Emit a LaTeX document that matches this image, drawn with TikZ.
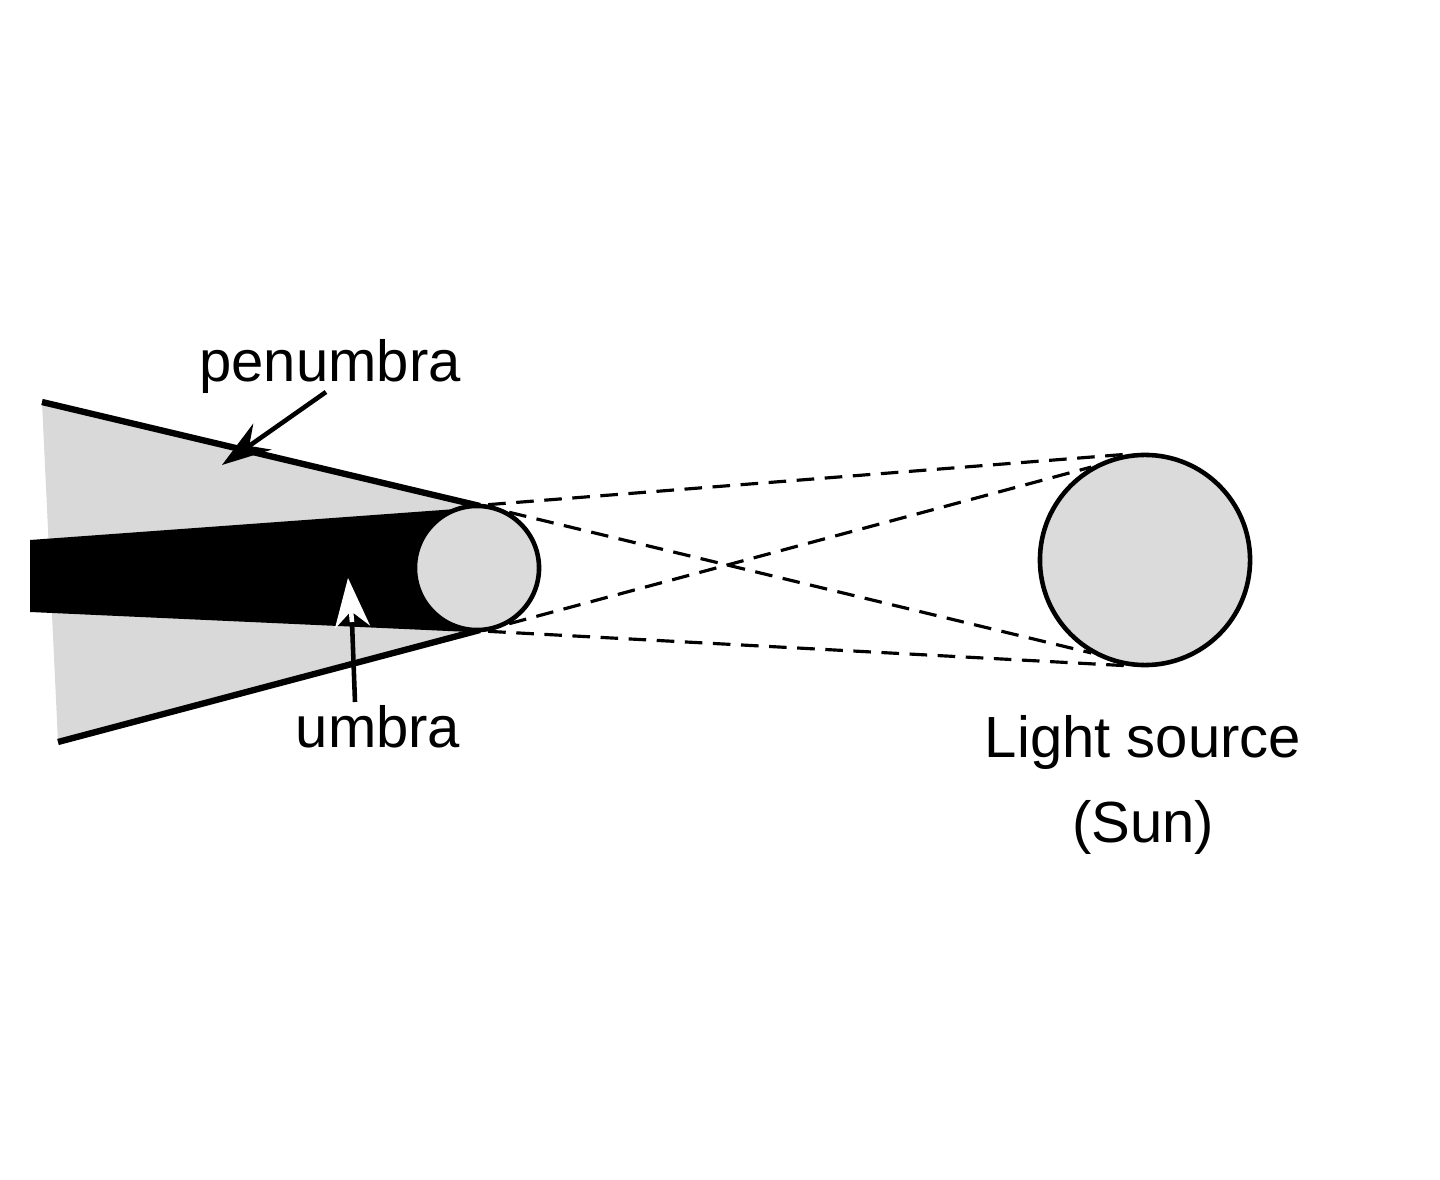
\documentclass[tikz,border=0pt]{standalone}
\usepackage{fontspec}
\setmainfont{Liberation Sans}
\usetikzlibrary{arrows.meta}
\begin{document}
\begin{tikzpicture}[x=0.01cm,y=-0.01cm,
  lbl/.style={font=\fontsize{16.5}{20}\selectfont, inner sep=0pt},
  ray/.style={line width=0.9pt, dash pattern=on 5pt off 3pt},
  ball/.style={draw, line width=1.3pt, fill=gray!28}]
\useasboundingbox (0,0) rectangle (1440,1180);
% penumbra
\fill[gray!30] (42,402) -- (480,506) -- (480,630) -- (58,742) -- cycle;
\draw[line width=1.8pt] (42,402) -- (480,506);
\draw[line width=1.8pt] (58,742) -- (480,630);
% umbra
\fill[black] (30,540) -- (470,508) -- (470,632) -- (30,612) -- cycle;
% bodies
\node[ball, circle, inner sep=0pt, minimum size=1.24cm] (moon) at (477,568) {};
\node[ball, circle, inner sep=0pt, minimum size=2.1cm] (sun) at (1145,560) {};
% rays
\draw[ray] (moon.80) -- (sun.100);
\draw[ray] (moon.-80) -- (sun.-100);
\draw[ray] (moon.60) -- (sun.-120);
\draw[ray] (moon.-60) -- (sun.120);
% labels
\node[lbl] (pen) at (330,367) {penumbra};
\node[lbl] (umb) at (378,727) {umbra};
\node[lbl, align=center] (ls) at (1143,785) {Light source\\[4pt](Sun)};
\coordinate (pa) at (222,465);
\coordinate (ua) at (352,622);
\coordinate (ub) at (348,578);
\draw[-{Stealth[length=14pt,width=9pt]}, line width=1.3pt] (326,392) -- (pa);
\draw[line width=1.3pt] (355,702) -- (ua);
\draw[white, -{Stealth[length=14pt,width=10pt]}, line width=1.3pt] (ua) -- (ub);
\end{tikzpicture}
\end{document}
